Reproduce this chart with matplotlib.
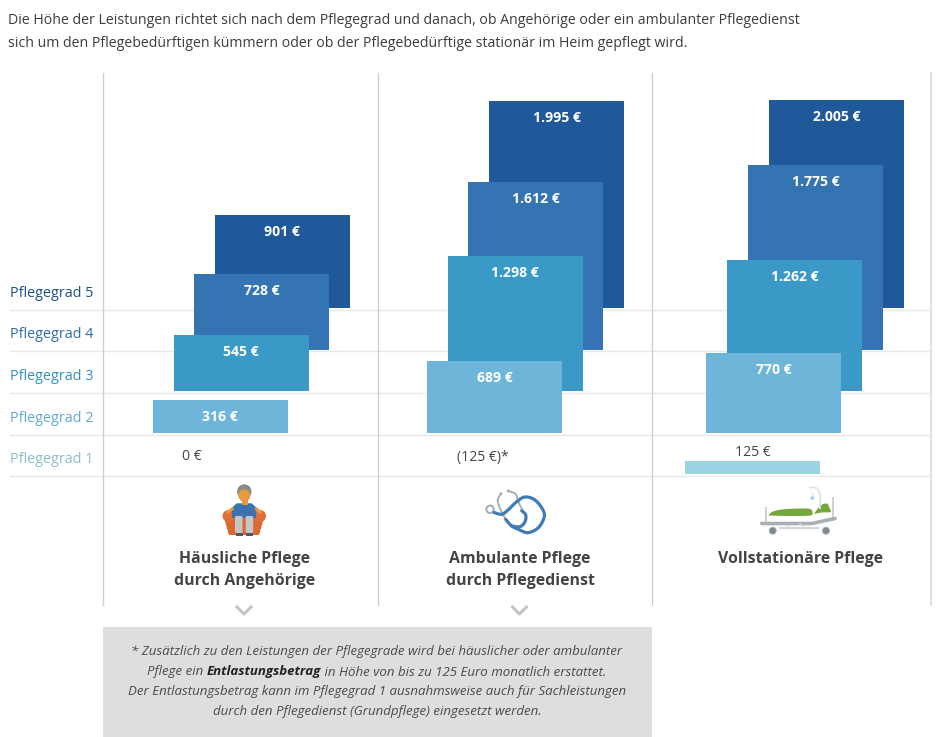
import matplotlib
matplotlib.use("Agg")
import matplotlib.pyplot as plt
from matplotlib.patches import Rectangle, Circle, Polygon, FancyBboxPatch, Ellipse
import numpy as np

plt.rcParams['font.family'] = ['Open Sans', 'DejaVu Sans']

# ---- data ----
grades = ["Pflegegrad 1", "Pflegegrad 2", "Pflegegrad 3", "Pflegegrad 4", "Pflegegrad 5"]
care_types = ["Häusliche Pflege\ndurch Angehörige", "Ambulante Pflege\ndurch Pflegedienst", "Vollstationäre Pflege"]
home_values = [0, 316, 545, 728, 901]
ambulant_values = [0, 689, 1298, 1612, 1995]
residential_values = [125, 770, 1262, 1775, 2005]
home_labels = ["0 €", "316 €", "545 €", "728 €", "901 €"]
ambulant_labels = ["(125 €)*", "689 €", "1.298 €", "1.612 €", "1.995 €"]
residential_labels = ["125 €", "770 €", "1.262 €", "1.775 €", "2.005 €"]
grade_colors = ["#9bd3e3", "#6db6d9", "#3a99c6", "#3574b2", "#20599a"]
label_colors = ["#8dbccd", "#62a9cc", "#338fbb", "#2f6ca6", "#1f4f86"]
grade_baseline_eur = [0, 400, 800, 1200, 1600]

W, H = 945, 737
PX_PER_EUR = 0.1037
BASE_PX = 474
BAR_W = 135
fig = plt.figure(figsize=(W / 100, H / 100), dpi=100, facecolor="white")

px = fig.add_axes([0, 0, 1, 1], zorder=3)
px.set_xlim(0, W); px.set_ylim(H, 0); px.axis("off"); px.patch.set_alpha(0)

ax = fig.add_axes([0, 0, 1, 1], zorder=2)
ax.set_xlim(0, W)
ax.set_ylim((BASE_PX - H) / PX_PER_EUR, BASE_PX / PX_PER_EUR)
ax.axis("off"); ax.patch.set_alpha(0)

bg = fig.add_axes([0, 0, 1, 1], zorder=1)
bg.set_xlim(0, W); bg.set_ylim(H, 0); bg.axis("off")

for y in [309.5, 351, 392.5, 434.5, 476]:
    bg.plot([10, 931], [y, y], color="#e8e8e8", lw=1)
for x in [103, 377.5, 652]:
    bg.plot([x, x], [73, 605], color="#cfcfcf", lw=1)
bg.plot([931, 931], [73, 605], color="#e2e2e2", lw=1.5)

columns = [
    (132.2, 20.65, home_values, home_labels),
    (406.3, 20.7, ambulant_values, ambulant_labels),
    (685.0, 21.0, residential_values, residential_labels),
]
label_font = 10.1
for left, step, vals, labs in columns:
    for g in range(4, -1, -1):
        x0 = left + g * step
        v = vals[g]
        b = grade_baseline_eur[g]
        if v > 0:
            ax.bar(x0, v, width=BAR_W, bottom=b, align="edge", color=grade_colors[g], lw=0)
        if g > 0:
            ytop = BASE_PX - (b + v) * PX_PER_EUR
            px.text(x0 + BAR_W / 2, ytop + 17, labs[g], color="white", fontsize=label_font,
                    fontweight="bold", ha="center", va="center")

px.text(192, 456, home_labels[0], color="#444444", fontsize=label_font, ha="center", va="center")
px.text(483, 457, ambulant_labels[0], color="#444444", fontsize=label_font, ha="center", va="center")
px.text(753, 452, residential_labels[0], color="#444444", fontsize=label_font, ha="center", va="center")

for g, y in enumerate([459, 418, 376, 334.5, 293]):
    px.text(10, y, grades[g], color=label_colors[g], fontsize=10.4, ha="left", va="center")

px.text(8, 20.5, "Die Höhe der Leistungen richtet sich nach dem Pflegegrad und danach, ob Angehörige oder ein ambulanter Pflegedienst",
        fontsize=10.2, color="#3c3c3c", ha="left", va="center")
px.text(8, 43.5, "sich um den Pflegebedürftigen kümmern oder ob der Pflegebedürftige stationär im Heim gepflegt wird.",
        fontsize=10.2, color="#3c3c3c", ha="left", va="center")

px.text(244.5, 570, care_types[0], fontsize=11.4, fontweight="bold", color="#444444", ha="center", va="center", linespacing=1.5)
px.text(520, 570, care_types[1], fontsize=11.4, fontweight="bold", color="#444444", ha="center", va="center", linespacing=1.5)
px.text(800, 559, care_types[2], fontsize=11.4, fontweight="bold", color="#444444", ha="center", va="center")

for cx in [244, 519.5]:
    px.plot([cx - 7, cx, cx + 7], [607, 614, 607], color="#c4c4c4", lw=2.2)

px.add_patch(Rectangle((103, 627), 549, 110, color="#dedede", lw=0))
NOTE_FS = 9.5
note_kw = dict(fontsize=NOTE_FS, style="italic", color="#4a4a4a", va="center")
px.text(377, 651, "* Zusätzlich zu den Leistungen der Pflegegrade wird bei häuslicher oder ambulanter", ha="center", **note_kw)
px.text(377, 692, "Der Entlastungsbetrag kann im Pflegegrad 1 ausnahmsweise auch für Sachleistungen", ha="center", **note_kw)
px.text(377, 712, "durch den Pflegedienst (Grundpflege) eingesetzt werden.", ha="center", **note_kw)
r = fig.canvas.get_renderer()
parts = [("Pflege ein ", "normal", "#4a4a4a"), ("Entlastungsbetrag", "bold", "#222222"),
         (" in Höhe von bis zu 125 Euro monatlich erstattet.", "normal", "#4a4a4a")]
ts = [px.text(0, 672, p[0].replace(" ", "\u00a0"), fontsize=NOTE_FS, style="italic", fontweight=p[1],
              color=p[2], va="center", ha="left") for p in parts]
ws = [t.get_window_extent(r).width for t in ts]
xx = 377 - sum(ws) / 2
for t, w in zip(ts, ws):
    t.set_x(xx); xx += w


def curve(points, n=14):
    """Catmull-Rom smoothing for the icon outlines."""
    p = np.array(points, float)
    p = np.vstack([p[0], p, p[-1]])
    out = []
    for i in range(1, len(p) - 2):
        for t in np.linspace(0, 1, n, endpoint=False):
            out.append(0.5 * (2 * p[i] + (p[i + 1] - p[i - 1]) * t
                              + (2 * p[i - 1] - 5 * p[i] + 4 * p[i + 1] - p[i + 2]) * t ** 2
                              + (3 * p[i] - p[i - 1] - 3 * p[i + 1] + p[i + 2]) * t ** 3))
    out.append(p[-2])
    out = np.array(out)
    return out[:, 0], out[:, 1]


# icon: person in armchair
o = "#d9692f"
px.add_patch(Polygon([[224, 518], [234, 516], [254, 516], [264, 518], [259, 535], [229, 535]], fc=o, lw=0))
px.add_patch(Circle((228.5, 516), 6, fc="#e0703a", lw=0))
px.add_patch(Circle((260, 516), 6, fc="#e0703a", lw=0))
px.add_patch(Polygon([[232.3, 518], [231.7, 508], [236.7, 503.3], [251.7, 503.3], [256.7, 508], [255.7, 518]], fc="#3a72ad", lw=0))
px.add_patch(FancyBboxPatch((235, 516), 7.5, 17, boxstyle="round,pad=0,rounding_size=1.5", fc="#c3c7c8", lw=0))
px.add_patch(FancyBboxPatch((245.7, 516), 7.5, 17, boxstyle="round,pad=0,rounding_size=1.5", fc="#c3c7c8", lw=0))
px.add_patch(Rectangle((235.5, 533), 7.5, 2.5, fc="#4d5a63", lw=0))
px.add_patch(Rectangle((245.5, 533), 7.5, 2.5, fc="#4d5a63", lw=0))
px.add_patch(Rectangle((241.5, 500), 6, 5, fc="#ea9a3e", lw=0))
px.add_patch(Circle((244.3, 491.5), 7.2, fc="#8a8a8a", lw=0))
px.add_patch(Ellipse((244.3, 495.5), 12, 12, fc="#ea9a3e", lw=0))
px.plot([232, 228], [509, 512], color="#ea9a3e", lw=2.2)
px.plot([256.5, 260], [509, 512], color="#ea9a3e", lw=2.2)

# icon: stethoscope
grey = "#a8aeb2"
blue = "#3f7cb5"
px.plot(*curve([(501, 494), (497.7, 500), (500, 508.3), (505, 518.3)]), color=grey, lw=1.4)
px.plot(*curve([(508.3, 491), (515.7, 494), (518.3, 501.7), (523.3, 511.7)]), color=grey, lw=1.4)
px.add_patch(Circle((501, 493.8), 1.4, fc="#8f969a", lw=0))
px.add_patch(Circle((508.3, 491), 1.4, fc="#8f969a", lw=0))
px.add_patch(Circle((490, 509.3), 3.7, fc="white", ec=grey, lw=1.5))
px.plot(*curve([(494, 512.5), (501.7, 514.3), (508, 510), (516.7, 501.7), (525, 497), (535, 500),
                (543, 510), (544, 518), (538, 528), (528, 532.7), (520, 530), (511.7, 526), (505.7, 519.3)]),
        color=blue, lw=2.3, solid_capstyle="round")
px.plot(*curve([(511.7, 526), (520, 526.7), (525, 521.7), (525.7, 515), (521.7, 510.7)]),
        color=blue, lw=2.3, solid_capstyle="round")

# icon: hospital bed
px.plot([766, 766], [508, 522], color="#c9ced0", lw=1.3)
px.plot([833.3, 833.3], [498, 519], color="#c9ced0", lw=1.3)
px.plot([780, 818], [527.7, 527.7], color="#d5d9db", lw=1.6)
px.plot([788, 788], [524, 528], color="#d5d9db", lw=1)
px.plot([761.7, 811.7, 835], [523.5, 523.5, 518.5], color="#a9b0b3", lw=2.6, solid_capstyle="round")
px.plot([800, 806], [524, 528], color="#d5d9db", lw=1)
px.fill(*curve([(768.3, 515.5), (772, 512), (781.7, 509.5), (800, 508.5), (810, 509), (812.5, 512.3), (810, 515.5), (790, 516), (768.3, 515.5)]),
        color="#74a83c", lw=0)
px.fill(*curve([(814, 514), (820, 506), (826.7, 503.5), (829.5, 508), (830.5, 512), (822, 512.5), (814, 514)]),
        color="#74a83c", lw=0)
for cx in [772.7, 826]:
    px.add_patch(Circle((cx, 530.7), 3.5, fc="#7d878c", ec="#a9b0b3", lw=0.7))
px.plot(*curve([(810, 487.3), (816.7, 488.3), (820, 495), (820, 508)]), color="#e2e4e5", lw=1.4)
px.add_patch(Circle((812.3, 498), 2, fc="#a5d5e6", lw=0))
px.plot([812.3, 812.3], [493, 496], color="#d5e7ee", lw=1)

fig.savefig("out.png", dpi=100, facecolor="white")
